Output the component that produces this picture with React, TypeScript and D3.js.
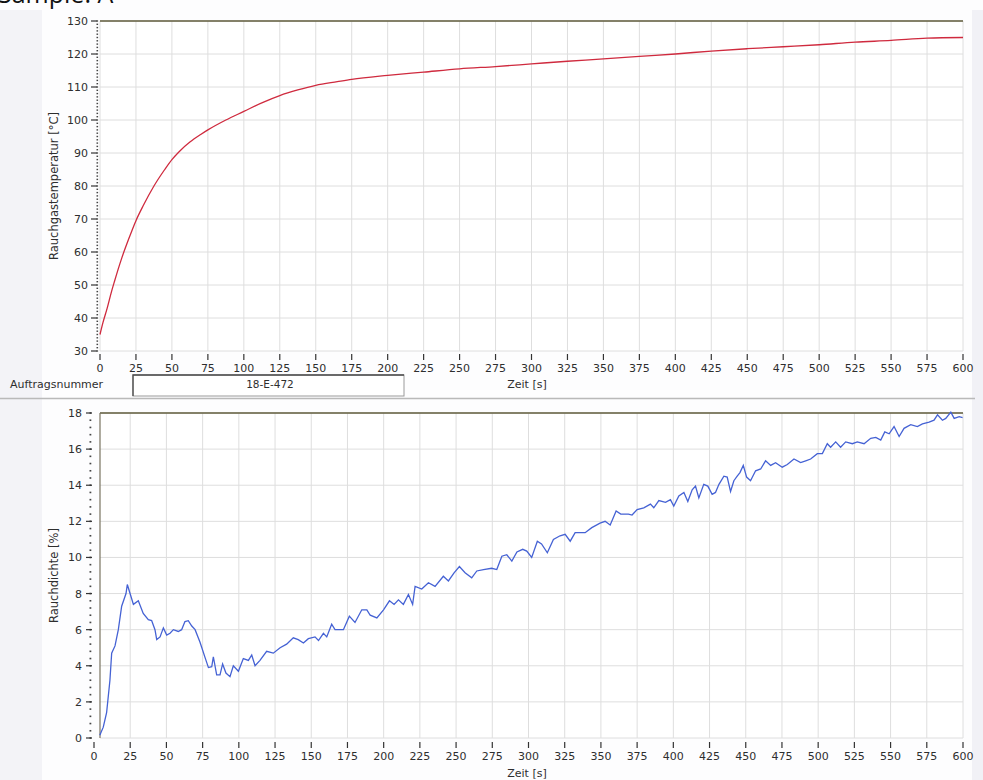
import React from "react";
import * as d3 from "d3";

const W = 983;
const H = 780;

// x axis (both charts)
const timeTicks = d3.range(0, 601, 25);
// y axis ticks
const tempTicks = d3.range(30, 131, 10);
const tempMinor = d3.range(30, 131, 1);
const densTicks = d3.range(0, 19, 2);
const densMinor = d3.range(0, 18.01, 0.4);

// Rauchgastemperatur [°C] over Zeit [s]
const tempTime = [0, 2, 5, 8, 10, 15, 20, 25, 30, 37.5, 45, 50, 55, 62.5, 70, 75, 87.5, 100, 112.5, 125, 137.5, 150, 165, 175, 200, 225, 250, 275, 300, 325, 350, 375, 400, 425, 450, 475, 500, 525, 550, 575, 600];
const tempValue = [35, 38.5, 43, 48, 51, 58, 64, 69.5, 74, 80, 85, 88, 90.4, 93.3, 95.6, 97, 100, 102.6, 105.2, 107.4, 109.1, 110.5, 111.6, 112.3, 113.5, 114.5, 115.5, 116.2, 117, 117.8, 118.5, 119.3, 120, 120.9, 121.6, 122.2, 122.8, 123.6, 124.1, 124.8, 125];

// Rauchdichte [%] over Zeit [s]
const densTime = [4, 6.4, 8.7, 11, 12.2, 14.5, 16.8, 19.1, 22.1, 23, 24.9, 27.2, 30.6, 34, 37.5, 39.8, 42.1, 43.3, 45.6, 47.9, 50.2, 52.5, 54.8, 58.2, 60.5, 62.8, 65.1, 67.5, 69.8, 73.2, 76.7, 79, 81.3, 82.4, 84.7, 87, 88.8, 91.1, 93.9, 96.2, 99.7, 103.1, 106.6, 108.9, 111.2, 114.6, 119.2, 123.8, 128.5, 133, 137.6, 141, 144.6, 148, 152.6, 155, 158.4, 160.7, 164.1, 166.4, 172.2, 176.3, 180.2, 184.9, 188.4, 190.7, 195.3, 199.9, 204, 207.2, 210.2, 213.6, 217.1, 220, 221.7, 226.3, 230.9, 235.5, 241.2, 244.7, 248.6, 252.3, 256.2, 260.8, 264.3, 268.9, 274.6, 278.1, 281.6, 285, 288.5, 292, 296, 298.8, 302.2, 306.1, 309, 313, 317.2, 321.8, 325.3, 328.8, 332.2, 339.1, 343.7, 349.4, 352.9, 356.4, 360.5, 363.7, 369, 371.5, 375, 379.6, 384.2, 386.5, 390, 394.6, 398, 400.3, 403.8, 407.3, 410, 413, 415.3, 417.6, 421, 423.8, 426.8, 429.1, 431.5, 434.9, 437.2, 439.5, 441.8, 444.1, 446, 448.3, 450.6, 453.3, 456.8, 460.3, 463.7, 467.2, 470.6, 475.2, 478.7, 483.3, 487.9, 491.4, 494.8, 499.4, 502.9, 506.3, 508.6, 512.1, 515.5, 519, 523.6, 527, 531.7, 536.3, 539.8, 543.2, 546, 549, 552.4, 555.9, 559.3, 563.9, 568.5, 572, 576.6, 580, 582.4, 585.8, 588.1, 591.6, 593.9, 597.4, 599.7];
const densValue = [0.15, 0.6, 1.4, 3.2, 4.7, 5.1, 6.0, 7.3, 8.0, 8.5, 8.0, 7.4, 7.6, 6.9, 6.55, 6.5, 6.0, 5.45, 5.6, 6.1, 5.7, 5.8, 6.0, 5.9, 6.0, 6.45, 6.5, 6.2, 6.0, 5.3, 4.45, 3.9, 3.95, 4.5, 3.5, 3.5, 4.1, 3.6, 3.4, 4.0, 3.7, 4.4, 4.3, 4.6, 4.0, 4.3, 4.8, 4.7, 5.0, 5.2, 5.55, 5.45, 5.26, 5.5, 5.6, 5.4, 5.8, 5.6, 6.3, 6.0, 6.0, 6.75, 6.4, 7.1, 7.1, 6.8, 6.65, 7.1, 7.6, 7.4, 7.65, 7.4, 7.95, 7.4, 8.4, 8.25, 8.6, 8.4, 8.96, 8.7, 9.15, 9.5, 9.15, 8.87, 9.25, 9.33, 9.4, 9.33, 10.07, 10.15, 9.8, 10.3, 10.45, 10.35, 10.0, 10.9, 10.75, 10.26, 11.0, 11.2, 11.28, 10.9, 11.37, 11.37, 11.65, 11.9, 12.0, 11.8, 12.57, 12.4, 12.4, 12.35, 12.65, 12.75, 12.95, 12.75, 13.15, 13.05, 13.2, 12.85, 13.4, 13.6, 13.1, 13.75, 13.95, 13.3, 14.05, 13.95, 13.5, 13.6, 14.05, 14.5, 14.45, 13.65, 14.25, 14.5, 14.7, 15.1, 14.45, 14.25, 14.8, 14.9, 15.35, 15.1, 15.25, 15.0, 15.15, 15.45, 15.25, 15.35, 15.45, 15.75, 15.75, 16.3, 16.1, 16.4, 16.1, 16.4, 16.3, 16.4, 16.3, 16.6, 16.65, 16.5, 16.95, 16.85, 17.25, 16.7, 17.15, 17.35, 17.25, 17.4, 17.5, 17.6, 17.9, 17.6, 17.7, 18.05, 17.7, 17.8, 17.75];

const FONT = "'DejaVu Sans', Verdana, sans-serif";
const TXT = "#2e2e2e";
const GRID = "#dedede";
const FRAME = "#615d3c";

export default function App() {
  // top chart
  const xT = d3.scaleLinear().domain([0, 600]).range([100, 963]);
  const yT = d3.scaleLinear().domain([30, 130]).range([351, 21]);
  // bottom chart
  const xB = d3.scaleLinear().domain([0, 600]).range([94, 963]);
  const yB = d3.scaleLinear().domain([0, 18]).range([738, 413]);
  const bLeft = 100;

  const tempLine = d3
    .line<number>()
    .x((_, i) => xT(tempTime[i]))
    .y((d) => yT(d))
    .curve(d3.curveMonotoneX);
  const densLine = d3
    .line<number>()
    .x((_, i) => xB(densTime[i]))
    .y((d) => yB(d))
    .curve(d3.curveLinear);

  return (
    <svg
      width={W}
      height={H}
      style={{ position: "absolute", left: 0, top: 0, display: "block", background: "#fff" }}
      fontFamily={FONT}
    >
      <rect x={0} y={0} width={W} height={H} fill="#fdfdfe" />
      <rect x={0} y={10} width={42} height={H - 10} fill="#f3f3f7" />
      <rect x={972} y={10} width={11} height={H - 10} fill="#f1f1f6" />

      {/* title, cut off by the page edge like the scan */}
      <text x={-2} y={3} fontFamily="'Open Sans', sans-serif" fontSize={25} fill="#111">
        Sample: A
      </text>

      {/* ---------- top chart ---------- */}
      <rect x={xT(0)} y={yT(130)} width={xT(600) - xT(0)} height={yT(30) - yT(130)} fill="#fff" />
      <g stroke={GRID} strokeWidth={1}>
        {timeTicks.map((t) => (
          <line key={"tv" + t} x1={xT(t)} x2={xT(t)} y1={yT(130)} y2={yT(30)} />
        ))}
        {tempTicks.map((v) => (
          <line key={"th" + v} x1={xT(0)} x2={xT(600)} y1={yT(v)} y2={yT(v)} />
        ))}
      </g>
      <line x1={xT(0)} x2={xT(600)} y1={yT(130)} y2={yT(130)} stroke={FRAME} strokeWidth={1.3} />
      {/* y axis */}
      {tempMinor.map((v) => (
        <rect key={"tm" + v} x={96.5} y={yT(v) - 0.7} width={1.6} height={1.4} fill="#444" />
      ))}
      {tempTicks.map((v) => (
        <g key={"tt" + v}>
          <line x1={91} x2={97} y1={yT(v)} y2={yT(v)} stroke="#333" strokeWidth={1.2} />
          <text x={88} y={yT(v) + 4} textAnchor="end" fontSize={11} fill={TXT}>
            {v}
          </text>
        </g>
      ))}
      {/* x axis */}
      {timeTicks.map((t) => (
        <g key={"tx" + t}>
          <line x1={xT(t)} x2={xT(t)} y1={yT(30) + 3} y2={yT(30) + 9} stroke="#333" strokeWidth={1.2} />
          <text x={xT(t)} y={yT(30) + 21} textAnchor="middle" fontSize={11} fill={TXT}>
            {t}
          </text>
        </g>
      ))}
      <text
        transform={`translate(58,${(yT(130) + yT(30)) / 2}) rotate(-90)`}
        textAnchor="middle"
        fontSize={11.5}
        fill={TXT}
      >
        Rauchgastemperatur [°C]
      </text>
      <path d={tempLine(tempValue) ?? ""} fill="none" stroke="#cf2a3e" strokeWidth={1.3} />

      {/* ---------- order number row ---------- */}
      <text x={10} y={388} fontSize={11} fill={TXT}>
        Auftragsnummer
      </text>
      <rect x={133} y={375} width={271} height={21} fill="#fff" stroke="#9a9a9a" strokeWidth={1} />
      <path d="M133,396 V375 H404" fill="none" stroke="#4a4a4a" strokeWidth={1.3} />
      <text x={270} y={388} textAnchor="middle" fontSize={10.5} fill={TXT}>
        18-E-472
      </text>
      <text x={527} y={388} textAnchor="middle" fontSize={11} fill={TXT}>
        Zeit [s]
      </text>
      <line x1={0} x2={975} y1={398.5} y2={398.5} stroke="#b9b9b9" strokeWidth={1.5} />

      {/* ---------- bottom chart ---------- */}
      <rect x={bLeft} y={yB(18)} width={xB(600) - bLeft} height={yB(0) - yB(18)} fill="#fff" />
      <g stroke={GRID} strokeWidth={1}>
        {timeTicks
          .filter((t) => xB(t) > bLeft)
          .map((t) => (
            <line key={"bv" + t} x1={xB(t)} x2={xB(t)} y1={yB(18)} y2={yB(0)} />
          ))}
        {densTicks.map((v) => (
          <line key={"bh" + v} x1={bLeft} x2={xB(600)} y1={yB(v)} y2={yB(v)} />
        ))}
      </g>
      <line x1={bLeft} x2={xB(600)} y1={yB(18)} y2={yB(18)} stroke={FRAME} strokeWidth={1.3} />
      <line x1={bLeft} x2={bLeft} y1={yB(18)} y2={yB(0)} stroke="#7a7460" strokeWidth={1.2} />
      {densMinor.map((v) => (
        <rect key={"bm" + v} x={89.5} y={yB(v) - 0.8} width={1.8} height={1.6} fill="#444" />
      ))}
      {densTicks.map((v) => (
        <g key={"bt" + v}>
          <line x1={86} x2={92} y1={yB(v)} y2={yB(v)} stroke="#333" strokeWidth={1.2} />
          <text x={82} y={yB(v) + 4} textAnchor="end" fontSize={11} fill={TXT}>
            {v}
          </text>
        </g>
      ))}
      {timeTicks.map((t) => (
        <g key={"bx" + t}>
          <line x1={xB(t)} x2={xB(t)} y1={yB(0) + 4} y2={yB(0) + 10} stroke="#333" strokeWidth={1.2} />
          <text x={xB(t)} y={yB(0) + 22} textAnchor="middle" fontSize={11} fill={TXT}>
            {t}
          </text>
        </g>
      ))}
      <text x={527} y={777} textAnchor="middle" fontSize={11} fill={TXT}>
        Zeit [s]
      </text>
      <text
        transform={`translate(58,${(yB(18) + yB(0)) / 2}) rotate(-90)`}
        textAnchor="middle"
        fontSize={11.5}
        fill={TXT}
      >
        Rauchdichte [%]
      </text>
      <path d={densLine(densValue) ?? ""} fill="none" stroke="#4562d4" strokeWidth={1.3} />
    </svg>
  );
}
